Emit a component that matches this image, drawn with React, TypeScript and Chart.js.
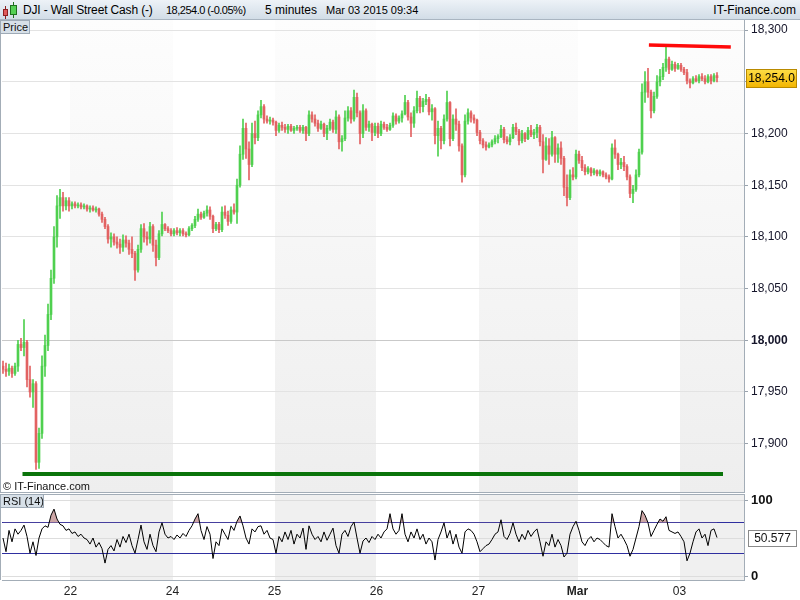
import React, { useEffect, useRef } from "react";
import { Chart, registerables } from "chart.js";

Chart.register(...registerables);

const FONT = '"Liberation Sans", Arial, Helvetica, sans-serif';

// ---------- data: 5-minute candles [open, high, low, close] grouped by session ----------
const day20 = [
  [17975,17980,17968,17972],[17972,17978,17965,17970],[17970,17977,17966,17973],[17973,17975,17964,17968],
  [17968,17978,17966,17975],[17975,18000,17970,17996],[17996,18002,17990,17993],[17993,18020,17985,17998],
  [17998,18000,17955,17962],[17962,17975,17945,17950],[17950,17962,17935,17958],[17958,17960,17875,17882],
  [17882,17915,17876,17910],[17910,17985,17905,17975],[17975,18005,17965,17995],[17995,18035,17990,18025],
  [18025,18068,18020,18060],[18060,18110,18055,18100],[18100,18140,18090,18130],[18130,18146,18118,18138],
  [18138,18143,18125,18130],[18130,18138,18126,18135],[18135,18138,18125,18130],
];
const day22 = [
  [18130,18134,18127,18132],[18132,18134,18128,18130],[18130,18133,18128,18131],[18131,18133,18127,18129],
  [18129,18132,18127,18130],[18130,18131,18125,18127],[18127,18130,18124,18128],[18128,18130,18125,18126],
  [18126,18129,18124,18127],[18127,18128,18120,18122],[18122,18124,18114,18117],[18117,18119,18108,18110],
  [18110,18112,18094,18098],[18098,18104,18090,18100],[18100,18103,18092,18095],[18095,18100,18089,18093],
  [18093,18098,18084,18090],[18090,18102,18086,18097],[18097,18101,18090,18094],[18094,18097,18083,18088],
  [18088,18100,18080,18084],[18084,18086,18058,18068],[18068,18092,18066,18088],[18088,18112,18085,18108],
  [18108,18113,18095,18100],[18100,18105,18092,18098],[18098,18114,18094,18110],[18110,18112,18086,18092],
  [18092,18097,18072,18080],[18080,18106,18078,18103],[18103,18124,18101,18112],[18112,18113,18106,18108],
  [18108,18110,18104,18106],[18106,18108,18101,18103],
];
const day24 = [
  [18103,18108,18101,18106],[18106,18109,18102,18104],[18104,18108,18101,18106],[18106,18108,18101,18103],
  [18103,18105,18100,18102],[18102,18110,18101,18108],[18108,18113,18106,18111],[18111,18120,18109,18117],
  [18117,18127,18115,18122],[18122,18124,18117,18119],[18119,18125,18118,18123],[18123,18130,18120,18126],
  [18126,18129,18117,18120],[18120,18121,18104,18108],[18108,18114,18106,18112],[18112,18114,18104,18107],
  [18107,18129,18105,18124],[18124,18130,18118,18121],[18121,18125,18111,18115],[18115,18129,18113,18126],
  [18126,18132,18122,18124],[18124,18156,18113,18150],[18150,18188,18148,18180],[18180,18214,18175,18205],
  [18205,18210,18176,18185],[18185,18192,18155,18170],[18170,18210,18168,18200],[18200,18212,18190,18196],
  [18196,18222,18193,18218],[18218,18232,18215,18226],[18226,18228,18210,18214],[18214,18217,18210,18212],
  [18212,18216,18209,18213],[18213,18215,18208,18211],
];
const day25 = [
  [18211,18212,18198,18203],[18203,18210,18201,18208],[18208,18211,18203,18206],[18206,18209,18201,18204],
  [18204,18209,18200,18207],[18207,18209,18202,18203],[18203,18207,18200,18205],[18205,18208,18203,18206],
  [18206,18208,18201,18203],[18203,18208,18200,18206],[18206,18207,18193,18200],[18200,18222,18198,18218],
  [18218,18221,18211,18214],[18214,18218,18207,18210],[18210,18213,18202,18205],[18205,18212,18204,18209],
  [18209,18210,18197,18200],[18200,18208,18194,18205],[18205,18214,18203,18211],[18211,18213,18201,18204],
  [18204,18222,18200,18216],[18216,18218,18185,18192],[18192,18198,18183,18195],[18195,18222,18193,18215],
  [18215,18226,18212,18222],[18222,18225,18210,18214],[18214,18242,18212,18235],[18235,18239,18216,18220],
  [18220,18222,18190,18200],[18200,18228,18196,18222],[18222,18224,18203,18206],[18206,18212,18202,18209],
  [18209,18210,18193,18201],[18201,18210,18198,18207],
];
const day26 = [
  [18207,18210,18196,18200],[18200,18212,18198,18209],[18209,18211,18204,18206],[18206,18209,18202,18204],
  [18204,18210,18203,18208],[18208,18220,18206,18217],[18217,18219,18209,18212],[18212,18217,18210,18215],
  [18215,18222,18211,18219],[18219,18237,18218,18230],[18230,18232,18213,18216],[18216,18220,18197,18210],
  [18210,18226,18206,18222],[18222,18241,18220,18234],[18234,18236,18220,18226],[18226,18234,18221,18231],
  [18231,18238,18228,18233],[18233,18235,18218,18221],[18221,18228,18213,18224],[18224,18225,18190,18198],
  [18198,18212,18178,18205],[18205,18207,18185,18193],[18193,18218,18190,18214],[18214,18241,18212,18230],
  [18230,18231,18188,18195],[18195,18218,18193,18214],[18214,18224,18203,18209],[18209,18212,18183,18188],
  [18188,18190,18153,18160],[18160,18218,18158,18212],[18212,18224,18209,18220],[18220,18222,18211,18215],
  [18215,18218,18210,18213],[18213,18214,18198,18201],
];
const day27 = [
  [18201,18203,18190,18193],[18193,18195,18186,18189],[18189,18192,18184,18187],[18187,18191,18186,18189],
  [18189,18194,18187,18192],[18192,18198,18190,18195],[18195,18199,18191,18197],[18197,18208,18196,18204],
  [18204,18206,18191,18194],[18194,18197,18190,18192],[18192,18199,18189,18196],[18196,18209,18195,18206],
  [18206,18210,18199,18202],[18202,18204,18189,18193],[18193,18203,18191,18200],[18200,18201,18192,18195],
  [18195,18206,18194,18203],[18203,18208,18197,18199],[18199,18204,18195,18201],[18201,18209,18196,18206],
  [18206,18208,18188,18192],[18192,18199,18162,18175],[18175,18196,18174,18188],[18188,18195,18170,18180],
  [18180,18202,18178,18196],[18196,18197,18172,18180],[18180,18190,18172,18186],[18186,18192,18170,18176],
  [18176,18178,18140,18148],[18148,18160,18130,18138],[18138,18165,18136,18160],[18160,18167,18155,18158],
  [18158,18184,18156,18180],
];
const dayMar = [
  [18180,18183,18171,18174],[18174,18178,18164,18167],[18167,18170,18160,18163],[18163,18168,18161,18166],
  [18166,18167,18159,18162],[18162,18166,18160,18164],[18164,18165,18159,18161],[18161,18165,18159,18163],
  [18163,18164,18158,18160],[18160,18162,18156,18158],[18158,18160,18153,18156],[18156,18190,18155,18186],
  [18186,18194,18176,18180],[18180,18181,18165,18170],[18170,18176,18166,18172],[18172,18178,18164,18168],
  [18168,18170,18155,18158],[18158,18160,18138,18142],[18142,18150,18133,18146],[18146,18165,18144,18160],
  [18160,18185,18158,18182],[18182,18248,18180,18240],[18240,18260,18230,18250],[18250,18263,18235,18240],
  [18240,18242,18215,18222],[18222,18240,18220,18236],[18236,18256,18234,18250],[18250,18262,18246,18255],
  [18255,18268,18252,18264],[18264,18285,18260,18272],[18272,18274,18258,18262],[18262,18270,18261,18267],
  [18267,18269,18260,18263],[18263,18268,18262,18266],
];
const day03 = [
  [18266,18268,18260,18262],[18262,18264,18257,18259],[18259,18262,18248,18251],[18251,18253,18244,18249],
  [18249,18255,18248,18253],[18253,18256,18250,18251],[18251,18257,18249,18255],[18255,18258,18251,18253],
  [18253,18256,18248,18250],[18250,18257,18249,18255],[18255,18257,18248,18251],[18251,18258,18250,18256],
  [18256,18259,18250,18254],
];

// RSI(14) per candle, per session
const rsi20 = [50,32,60,45,62,55,60,67,52,30,45,27,50,62,66,64,80,88,75,68,66,60,62];
const rsi22 = [56,58,52,55,50,48,42,50,38,44,36,17,35,40,33,48,38,52,44,55,40,30,48,67,45,35,55,40,32,58,70,55,50,52];
const rsi24 = [48,54,50,56,52,60,66,75,82,60,48,65,55,23,45,40,62,55,48,66,60,72,79,66,50,42,62,58,65,66,55,60,50,48];
const rsi25 = [30,52,45,58,48,60,42,55,50,63,35,66,55,48,52,45,58,47,55,63,40,30,55,60,52,65,71,50,30,46,50,44,52,48];
const rsi26 = [55,50,58,62,82,62,55,60,82,55,45,58,50,62,48,55,42,50,45,21,48,58,70,50,60,42,55,38,30,58,62,60,55,45];
const rsi27 = [32,36,40,42,48,55,58,74,52,48,56,70,55,45,55,48,60,52,58,62,45,26,45,40,55,38,48,40,25,30,55,65,72];
const rsiMar = [60,45,40,48,52,45,50,48,44,40,38,82,65,50,55,48,40,26,35,50,65,86,80,70,52,60,68,75,72,78,60,58,56,58];
const rsi03 = [52,45,20,30,45,58,62,50,55,40,60,62,50.577];

const sessions = [day20, day22, day24, day25, day26, day27, dayMar, day03];
const rsiSessions = [rsi20, rsi22, rsi24, rsi25, rsi26, rsi27, rsiMar, rsi03];
const dayLabels = ["22", "24", "25", "26", "27", "Mar", "03"];
const priceTicks = [17900, 17950, 18000, 18050, 18100, 18150, 18200, 18250, 18300];
const rsiTicks = [0, 30, 50, 70, 100];
const rsiBands = [30, 70];

// drawn trend lines (bar index, price)
const supportLine = [ { bar: 6.5, price: 17870.7 }, { bar: 240, price: 17870.7 } ];
const resistanceLine = [ { bar: 215.3, price: 18285.6 }, { bar: 242.6, price: 18283.6 } ];

const candles = sessions.flat();
const rsi = rsiSessions.flat();
const dayStarts: number[] = [];
{
  let n = 0;
  for (let k = 0; k < sessions.length - 1; k++) {
    n += sessions[k].length;
    dayStarts.push(n - 0.5);
  }
}
const lastClose = candles[candles.length - 1][3];
const lastRsi = rsi[rsi.length - 1];

const X_MIN = -1 / 3;
const X_MAX = -1 / 3 + 742 / 3;
const UP = "#4fd04f";
const DOWN = "#e26262";
const FRAME = "#a3adb7";

const fmt = (v: number) => v.toLocaleString("en-US");
const noPad = (s: any) => {
  s.paddingTop = 0;
  s.paddingBottom = 0;
  s.paddingLeft = 0;
  s.paddingRight = 0;
};

function bands(gradient: boolean) {
  return {
    id: "bands",
    beforeDraw(chart: any) {
      const { ctx, chartArea, scales } = chart;
      const { right, top, bottom } = chartArea;
      const x = scales.x;
      ctx.save();
      if (gradient) {
        const g = ctx.createLinearGradient(0, top, 0, bottom);
        g.addColorStop(0, "#fdfdfd");
        g.addColorStop(1, "#eeeeee");
        ctx.fillStyle = g;
      } else {
        ctx.fillStyle = "#f0f0f0";
      }
      for (let k = 0; k < dayStarts.length; k += 2) {
        const a = Math.round(x.getPixelForValue(dayStarts[k]));
        const b = k + 1 < dayStarts.length ? Math.round(x.getPixelForValue(dayStarts[k + 1])) : right;
        ctx.fillRect(a, top, b - a, bottom - top);
      }
      ctx.restore();
    },
  };
}

function frame(drawTop: boolean, drawBottom: boolean) {
  return {
    id: "frame",
    afterDraw(chart: any) {
      const { ctx, chartArea } = chart;
      const { right, top, bottom } = chartArea;
      ctx.save();
      ctx.strokeStyle = FRAME;
      ctx.lineWidth = 1;
      ctx.beginPath();
      ctx.moveTo(0.5, top);
      ctx.lineTo(0.5, bottom);
      if (drawTop) {
        ctx.moveTo(0, top + 0.5);
        ctx.lineTo(right, top + 0.5);
      }
      if (drawBottom) {
        ctx.moveTo(0, bottom - 0.5);
        ctx.lineTo(right, bottom - 0.5);
      }
      ctx.stroke();
      ctx.restore();
    },
  };
}

const priceBadge = {
  id: "priceBadge",
  afterDraw(chart: any) {
    const { ctx, scales } = chart;
    const y = Math.round(scales.y.getPixelForValue(lastClose));
    const x0 = 746, w = 51, h = 19;
    ctx.save();
    const g = ctx.createLinearGradient(0, y - h / 2, 0, y + h / 2);
    g.addColorStop(0, "#ffe04a");
    g.addColorStop(1, "#f2b400");
    ctx.fillStyle = g;
    ctx.fillRect(x0, y - 9, w, h);
    ctx.strokeStyle = "#b98a00";
    ctx.strokeRect(x0 + 0.5, y - 8.5, w - 1, h - 1);
    ctx.fillStyle = "#000";
    ctx.font = `12px ${FONT}`;
    ctx.textAlign = "center";
    ctx.textBaseline = "middle";
    ctx.fillText(lastClose.toFixed(1).replace(/\B(?=(\d{3})+(?!\d))/, ","), x0 + w / 2, y + 1);
    ctx.restore();
  },
};

const rsiBadge = {
  id: "rsiBadge",
  afterDraw(chart: any) {
    const { ctx, scales } = chart;
    const y = Math.round(scales.y.getPixelForValue(lastRsi));
    const x0 = 748, w = 49, h = 17;
    ctx.save();
    ctx.fillStyle = "#ffffff";
    ctx.fillRect(x0, y - 8, w, h);
    ctx.strokeStyle = "#8a8a8a";
    ctx.strokeRect(x0 + 0.5, y - 7.5, w - 1, h - 1);
    ctx.fillStyle = "#111";
    ctx.font = `12px ${FONT}`;
    ctx.textAlign = "center";
    ctx.textBaseline = "middle";
    ctx.fillText(lastRsi.toFixed(3), x0 + w / 2, y + 1);
    ctx.restore();
  },
};

export default function App() {
  const priceRef = useRef<HTMLCanvasElement | null>(null);
  const rsiRef = useRef<HTMLCanvasElement | null>(null);

  useEffect(() => {
    document.body.style.margin = "0";
    Chart.defaults.font.family = FONT;
    const colors = candles.map((c) => (c[3] >= c[0] ? UP : DOWN));

    const price = new Chart(priceRef.current as HTMLCanvasElement, {
      type: "bar",
      data: {
        datasets: [
          {
            type: "line",
            data: supportLine.map((p) => ({ x: p.bar, y: p.price })),
            borderColor: "#0a740a",
            borderWidth: 4,
            pointRadius: 0,
            order: 0,
          } as any,
          {
            type: "line",
            data: resistanceLine.map((p) => ({ x: p.bar, y: p.price })),
            borderColor: "#ff0a0a",
            borderWidth: 3.5,
            pointRadius: 0,
            order: 0,
          } as any,
          {
            type: "bar",
            data: candles.map((c, i) => ({ x: i, y: [c[2], c[1]] })),
            backgroundColor: colors,
            barThickness: 1,
            grouped: false,
            borderWidth: 0,
            order: 2,
          } as any,
          {
            type: "bar",
            data: candles.map((c, i) => ({ x: i, y: [c[0], c[3]] })),
            backgroundColor: colors,
            barThickness: 2,
            minBarLength: 1,
            grouped: false,
            borderWidth: 0,
            order: 1,
          } as any,
        ],
      },
      options: {
        animation: false,
        responsive: false,
        maintainAspectRatio: false,
        layout: { padding: { left: 2, top: 0, right: 0, bottom: 0 } },
        plugins: { legend: { display: false }, tooltip: { enabled: false } },
        scales: {
          x: { type: "linear", min: X_MIN, max: X_MAX, offset: false, display: false, afterFit: noPad },
          y: {
            position: "right",
            min: 17852.3,
            max: 18309.8,
            afterFit: (s: any) => { s.width = 56; noPad(s); },
            afterBuildTicks: (s: any) => { s.ticks = priceTicks.map((v) => ({ value: v })); },
            ticks: {
              padding: 3,
              color: "#15152a",
              font: (c: any) => ({ family: FONT, size: 12, weight: c.tick && c.tick.value === 18000 ? "bold" : "normal" }),
              callback: (v: any) => (Math.abs(v - lastClose) < 15 ? "" : fmt(v)),
            },
            grid: {
              color: (c: any) => (c.tick && c.tick.value === 18000 ? "#c9c9c9" : "#e3e3e3"),
              tickColor: "#9aa3ad",
              tickLength: 4,
            },
            border: { color: FRAME },
          },
        },
      },
      plugins: [bands(true), frame(false, true), priceBadge],
    } as any);

    const rsiChart = new Chart(rsiRef.current as HTMLCanvasElement, {
      type: "line",
      data: {
        datasets: [
          {
            data: rsi.map((v, i) => ({ x: i, y: v })),
            borderColor: "#000",
            borderWidth: 1,
            pointRadius: 0,
            tension: 0,
            fill: { target: { value: 70 }, above: "rgba(196,150,150,0.85)", below: "rgba(0,0,0,0)" },
          },
        ],
      },
      options: {
        animation: false,
        responsive: false,
        maintainAspectRatio: false,
        layout: { padding: { left: 2, top: 1, right: 0, bottom: 0 } },
        plugins: { legend: { display: false }, tooltip: { enabled: false } },
        scales: {
          x: {
            type: "linear",
            min: X_MIN,
            max: X_MAX,
            offset: false,
            afterFit: (s: any) => { s.height = 20; noPad(s); },
            afterBuildTicks: (s: any) => { s.ticks = dayStarts.map((v) => ({ value: v })); },
            ticks: {
              autoSkip: false,
              maxRotation: 0,
              padding: 4,
              color: "#222",
              font: (c: any) => ({ family: FONT, size: 12, weight: c.index === 5 ? "bold" : "normal" }),
              callback: (_v: any, i: number) => dayLabels[i],
            },
            grid: { display: false, drawTicks: false },
            border: { color: FRAME },
          },
          y: {
            position: "right",
            min: -5.26,
            max: 107.9,
            afterFit: (s: any) => { s.width = 56; noPad(s); },
            afterBuildTicks: (s: any) => { s.ticks = rsiTicks.map((v) => ({ value: v })); },
            ticks: {
              padding: 3,
              color: "#111",
              font: { family: FONT, size: 13, weight: "bold" },
              callback: (v: any) => (v === 0 || v === 100 ? String(v) : ""),
            },
            grid: {
              color: (c: any) => (c.tick && rsiBands.includes(c.tick.value) ? "#2f2fa0" : "#dddddd"),
              tickColor: (c: any) => (c.tick && (c.tick.value === 0 || c.tick.value === 100) ? "#9aa3ad" : "rgba(0,0,0,0)"),
              tickLength: 4,
            },
            border: { color: FRAME },
          },
        },
      },
      plugins: [bands(false), frame(true, false), rsiBadge],
    } as any);

    return () => {
      price.destroy();
      rsiChart.destroy();
    };
  }, []);

  const txt: React.CSSProperties = { position: "absolute", top: 3, whiteSpace: "nowrap", lineHeight: "14px" };
  const box: React.CSSProperties = {
    position: "absolute", height: 14, background: "#d7e0e8", border: "1px solid #9eaab6", boxSizing: "border-box",
    fontSize: 11, lineHeight: "12px", paddingLeft: 2, color: "#111", whiteSpace: "nowrap", overflow: "hidden",
  };

  return (
    <div style={{ position: "absolute", left: 0, top: 0, width: 800, height: 600, background: "#ffffff", overflow: "hidden", fontFamily: FONT }}>
      <div style={{ position: "absolute", left: 0, top: 0, width: 800, height: 19, background: "linear-gradient(#edf2f7, #d2dde7)", borderBottom: "1px solid #a9b5c1", fontSize: 12, color: "#000" }}>
        <div style={{ position: "absolute", left: 5, top: 6, width: 1, height: 13, background: "#8a2020" }} />
        <div style={{ position: "absolute", left: 3, top: 9, width: 5, height: 7, background: "#e05a5a", border: "1px solid #902020", boxSizing: "border-box" }} />
        <div style={{ position: "absolute", left: 13, top: 2, width: 1, height: 16, background: "#207020" }} />
        <div style={{ position: "absolute", left: 10, top: 5, width: 7, height: 10, background: "#55d055", border: "1px solid #207020", boxSizing: "border-box" }} />
        <span style={{ ...txt, left: 23, letterSpacing: -0.15 }}>DJI - Wall Street Cash (-)</span>
        <span style={{ ...txt, left: 166, fontSize: 11, letterSpacing: -0.5 }}>18,254.0 (-0.05%)</span>
        <span style={{ ...txt, left: 265 }}>5 minutes</span>
        <span style={{ ...txt, left: 326, fontSize: 11 }}>Mar 03 2015 09:34</span>
        <span style={{ ...txt, right: 4 }}>IT-Finance.com</span>
      </div>
      <canvas ref={priceRef} width={800} height={473} style={{ position: "absolute", left: 0, top: 20 }} />
      <canvas ref={rsiRef} width={800} height={107} style={{ position: "absolute", left: 0, top: 493 }} />
      <div style={{ ...box, left: 0, top: 20, width: 30 }}>Price</div>
      <div style={{ position: "absolute", left: 3, top: 480, fontSize: 11, color: "#111", whiteSpace: "nowrap" }}>© IT-Finance.com</div>
      <div style={{ ...box, left: 0, top: 494, width: 44 }}>RSI (14)</div>
    </div>
  );
}
